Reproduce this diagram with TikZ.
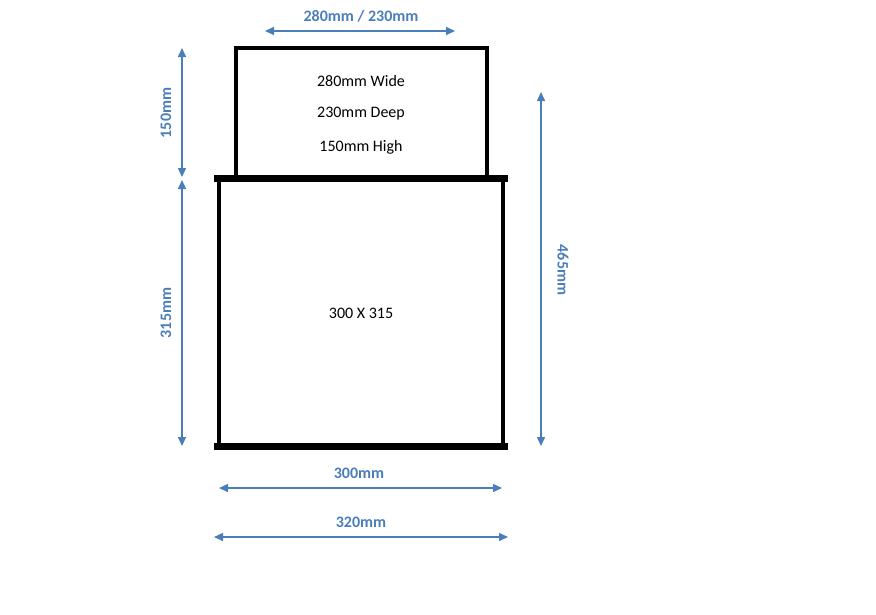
\documentclass[tikz,border=0pt]{standalone}
\usepackage{fontspec}
\setmainfont{Carlito}
\usepackage{tikz}
\usetikzlibrary{arrows.meta}
\definecolor{dimblue}{RGB}{74,126,187}

\begin{document}
\begin{tikzpicture}[x=1pt, y=-1pt,
		dimline/.style={dimblue, line width=1.5pt,
			{Triangle[width=8pt,length=9pt]}-{Triangle[width=8pt,length=9pt]}},
		dimlabel/.style={text=dimblue, inner sep=0pt,
			font=\fontsize{16}{19}\selectfont\bfseries},
		boxtext/.style={inner sep=0pt, font=\fontsize{16}{19}\selectfont}]
		\useasboundingbox (0,0) rectangle (876,614);
		%----------------------------------------------------
		% Upper box and the stand below it
		%----------------------------------------------------
		\coordinate (UA) at (236,48);
		\coordinate (UC) at (487,178);
		\draw [line width=4pt] (UA) rectangle (UC);
		
		\coordinate (LA) at (219,179);
		\coordinate (LB) at (219,446);
		\coordinate (LC) at (503,179);
		\coordinate (LD) at (503,446);
		\draw [line width=4pt] (LA) -- (LB);
		\draw [line width=4pt] (LC) -- (LD);
		
		\coordinate (TopL) at (214,178);
		\coordinate (TopR) at (508,178);
		\coordinate (BotL) at (214,446);
		\coordinate (BotR) at (508,446);
		\draw [line width=7pt] (TopL) -- (TopR);
		\draw [line width=7pt] (BotL) -- (BotR);
		
		\node [boxtext] (wide) at (361,81) {280mm Wide};
		\node [boxtext] (deep) at (361,114) {230mm Deep};
		\node [boxtext] (high) at (361,147) {150mm High};
		\node [boxtext] (size) at (361,313) {300 X 315};
		
		%----------------------------------------------------
		% Dimension arrows
		%----------------------------------------------------
		\coordinate (W1) at (265,31);
		\coordinate (W2) at (455,31);
		\draw [dimline] (W1) -- (W2);
		\node [dimlabel] (topw) at (361,16) {280mm / 230mm};
		
		\coordinate (H1) at (182,48);
		\coordinate (H2) at (182,177);
		\draw [dimline] (H1) -- (H2);
		\node [dimlabel, rotate=90] (uph) at (166,113) {150mm};
		
		\coordinate (H3) at (182,180);
		\coordinate (H4) at (182,446);
		\draw [dimline] (H3) -- (H4);
		\node [dimlabel, rotate=90] (loh) at (166,313) {315mm};
		
		\coordinate (T1) at (541,92);
		\coordinate (T2) at (541,446);
		\draw [dimline] (T1) -- (T2);
		\node [dimlabel, rotate=-90] (toth) at (563,270) {465mm};
		
		\coordinate (S1) at (219,488);
		\coordinate (S2) at (502,488);
		\draw [dimline] (S1) -- (S2);
		\node [dimlabel] (standw) at (359,473) {300mm};
		
		\coordinate (B1) at (214,537);
		\coordinate (B2) at (508,537);
		\draw [dimline] (B1) -- (B2);
		\node [dimlabel] (basew) at (361,522) {320mm};
		
		%\draw [dimline] (LA) -- (LC);
	\end{tikzpicture}
\end{document}
